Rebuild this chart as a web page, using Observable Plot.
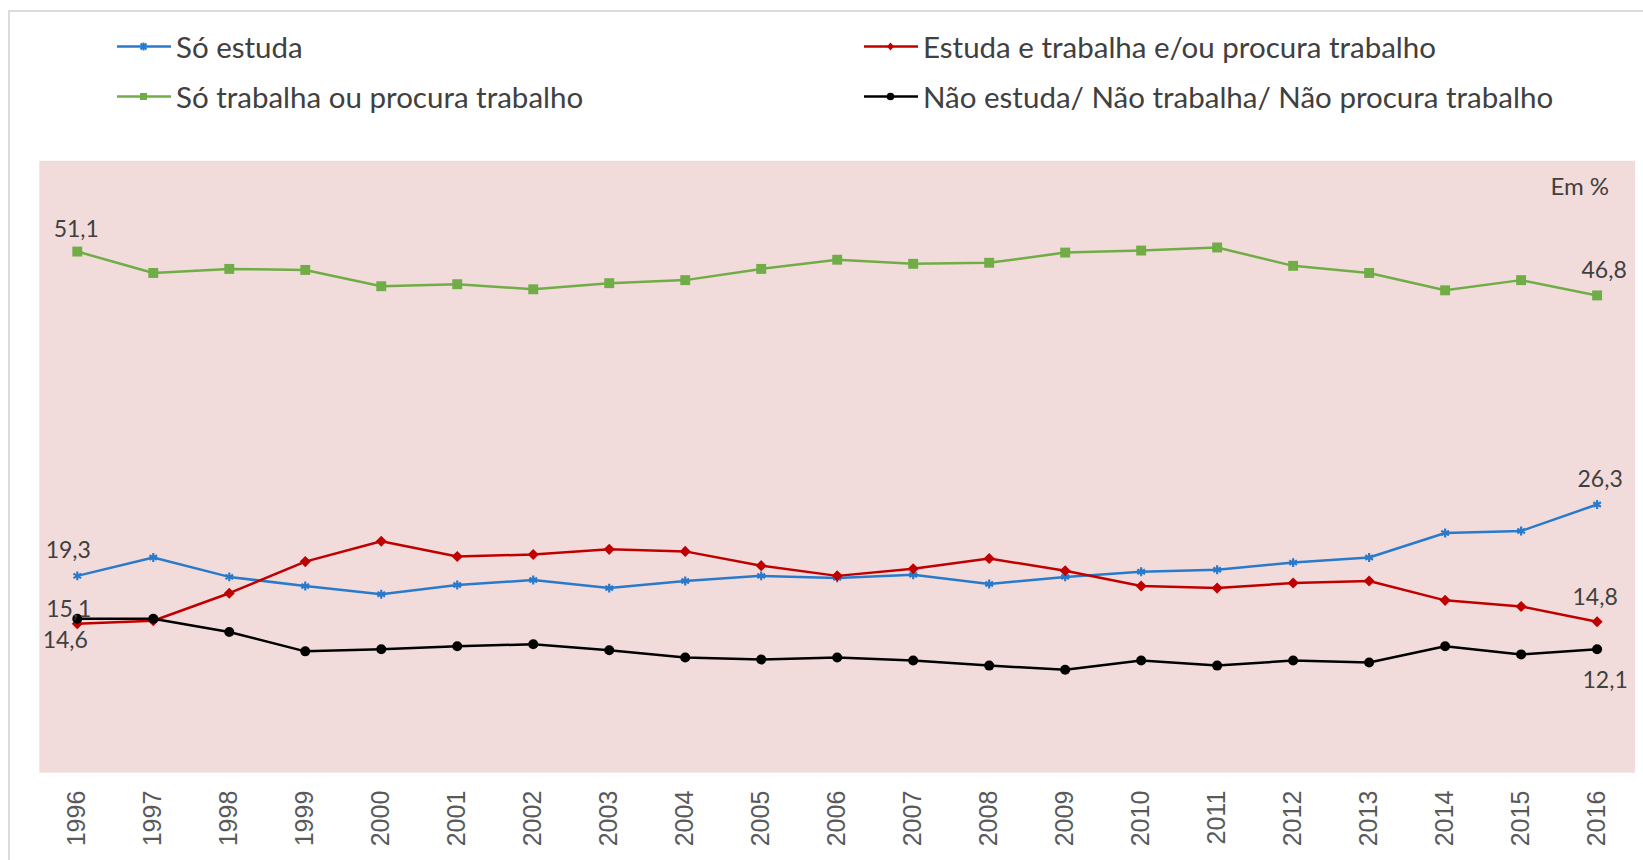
<!DOCTYPE html>
<html>
<head>
<meta charset="utf-8">
<script src="https://cdn.jsdelivr.net/npm/d3@7"></script>
<script src="https://cdn.jsdelivr.net/npm/@observablehq/plot@0.6"></script>
<style>
  html, body { margin: 0; padding: 0; background: #fff; }
  #wrap { position: relative; width: 1643px; height: 860px; overflow: hidden; font-family: Lato, "Open Sans", sans-serif; }
  #frame { position: absolute; left: 8px; top: 10px; right: -5px; bottom: -5px; border-left: 2px solid #dcdcdc; border-top: 2px solid #dcdcdc; }
  #legend { position: absolute; left: 0; top: 0; width: 1643px; height: 130px; }
  .item { position: absolute; display: flex; align-items: center; height: 36px; font-size: 29.5px; color: #404040; white-space: nowrap; }
  .item svg { margin-right: 5px; }
  #chart { position: absolute; left: 0; top: 130px; }
</style>
</head>
<body>
<div id="wrap">
  <div id="frame"></div>
  <div id="legend"></div>
  <div id="chart"></div>
</div>
<script>
// ---- data ----
const years = [1996,1997,1998,1999,2000,2001,2002,2003,2004,2005,2006,2007,2008,2009,2010,2011,2012,2013,2014,2015,2016];
const seriesNames = [
  "Só estuda",
  "Só trabalha ou procura trabalho",
  "Estuda e trabalha e/ou procura trabalho",
  "Não estuda/ Não trabalha/ Não procura trabalho"
];
const soEstuda   = [19.3,21.1,19.2,18.3,17.5,18.4,18.9,18.1,18.8,19.3,19.1,19.4,18.5,19.2,19.7,19.9,20.6,21.1,23.5,23.7,26.3];
const soTrabalha = [51.1,49.0,49.4,49.3,47.7,47.9,47.4,48.0,48.3,49.4,50.3,49.9,50.0,51.0,51.2,51.5,49.7,49.0,47.3,48.3,46.8];
const estudaTrab = [14.6,14.9,17.6,20.7,22.7,21.2,21.4,21.9,21.7,20.3,19.3,20.0,21.0,19.8,18.3,18.1,18.6,18.8,16.9,16.3,14.8];
const naoEstuda  = [15.1,15.1,13.8,11.9,12.1,12.4,12.6,12.0,11.3,11.1,11.3,11.0,10.5,10.1,11.0,10.5,11.0,10.8,12.4,11.6,12.1];
const unitLabel = "Em %";

// ---- styles ----
const colors  = ["#2a7acb", "#70ad47", "#c00000", "#000000"];
const symbols = ["asterisk", "square", "diamond2", "circle"];
const radii   = [4.2, 5.6, 5, 5];
const allValues = [soEstuda, soTrabalha, estudaTrab, naoEstuda];

const rows = [];
seriesNames.forEach((s, i) => years.forEach((y, j) => rows.push({series: s, year: y, value: allValues[i][j], idx: i})));
const bySeries = i => rows.filter(r => r.idx === i);
const fmt = v => v.toFixed(1).replace(".", ",");

// ---- legend (HTML above the SVG) ----
const legendPos = [
  {x: 117, y: 46, i: 0}, {x: 117, y: 96, i: 1},
  {x: 864, y: 46, i: 2}, {x: 864, y: 96, i: 3}
];
const legend = document.getElementById("legend");
legendPos.forEach(p => {
  const i = p.i;
  const div = document.createElement("div");
  div.className = "item";
  div.style.left = p.x + "px";
  div.style.top = (p.y - 18) + "px";
  let marker;
  if (symbols[i] === "square") marker = `<rect x="23" y="5" width="7" height="7" fill="${colors[i]}"/>`;
  else if (symbols[i] === "circle") marker = `<circle cx="26.5" cy="8.5" r="3.8" fill="${colors[i]}"/>`;
  else if (symbols[i] === "diamond2") marker = `<path d="M26.5 4.5 L30 8.5 L26.5 12.5 L23 8.5 Z" fill="${colors[i]}"/>`;
  else marker = `<path d="M23.5 5.5 L29.5 11.5 M29.5 5.5 L23.5 11.5 M26.5 4.5 L26.5 12.5" stroke="${colors[i]}" stroke-width="2"/>`;
  div.innerHTML = `<svg width="54" height="17"><line x1="0" y1="8.5" x2="54" y2="8.5" stroke="${colors[i]}" stroke-width="2.5"/>${marker}</svg><span>${seriesNames[i]}</span>`;
  legend.appendChild(div);
});

// ---- chart ----
const labelStyle = {fill: "#404040", fontSize: 23, fontFamily: "Lato, sans-serif"};
const lab = (i, j, dx, dy) => Plot.text([rows.find(r => r.idx === i && r.year === years[j])],
  {x: "year", y: "value", text: d => fmt(d.value), dx, dy, ...labelStyle});
const last = years.length - 1;

const marks = [
  Plot.frame({fill: "#f2dcdb", stroke: null})
];
seriesNames.forEach((s, i) => {
  marks.push(Plot.line(bySeries(i), {x: "year", y: "value", stroke: colors[i], strokeWidth: 2.5}));
  if (symbols[i] === "asterisk") {
    marks.push(Plot.dot(bySeries(i), {x: "year", y: "value", symbol: "asterisk", r: radii[i], stroke: colors[i], strokeWidth: 2.2}));
  } else {
    marks.push(Plot.dot(bySeries(i), {x: "year", y: "value", symbol: symbols[i], r: radii[i], fill: colors[i], stroke: null}));
  }
});
marks.push(
  lab(1, 0, -1, -22),
  lab(0, 0, -9, -25),
  lab(3, 0, -8.5, -9),
  lab(2, 0, -12, 17),
  lab(0, last, 3, -25),
  lab(2, last, -2, -24),
  lab(3, last, 8, 31),
  lab(1, last, 7, -25),
  Plot.text([unitLabel], {frameAnchor: "top-right", text: d => d, dx: -26, dy: 17, ...labelStyle, fontSize: 24}),
  Plot.axisX({ticks: years, tickFormat: d => String(d), tickRotate: -90, tickSize: 0, tickPadding: 18, fontSize: 25, fill: "#595959", fontFamily: "Liberation Sans, Arial, sans-serif", letterSpacing: 0.5, label: null})
);

const chart = Plot.plot({
  width: 1643,
  height: 730,
  marginLeft: 38.8,
  marginRight: 8.4,
  marginTop: 30.3,
  marginBottom: 87.8,
  x: {domain: [years[0] - 0.5, years[last] + 0.5]},
  y: {domain: [0, 60], axis: null},
  marks
});
document.getElementById("chart").appendChild(chart);
</script>
</body>
</html>
